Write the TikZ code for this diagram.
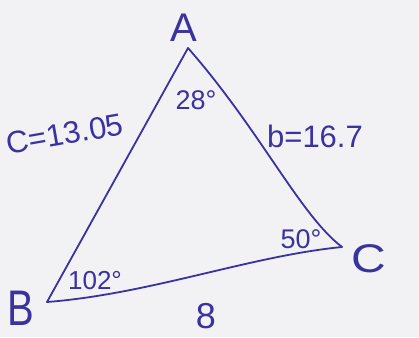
\documentclass[tikz,border=0pt]{standalone}
\usepackage{fontspec}
\setmainfont{Liberation Sans}
\usepackage{xcolor}
\definecolor{ink}{RGB}{58,50,158}
\definecolor{paper}{RGB}{242,242,245}

\begin{document}
\begin{tikzpicture}[x=1pt, y=-1pt, line width=1.8pt, line cap=round,
  hand/.style={text=ink, inner sep=0pt, font=\fontsize{31}{31}\selectfont},
  big/.style={hand, font=\fontsize{40}{40}\selectfont}]
  %% paper
  \fill[paper] (0,0) rectangle (419,337);
  \useasboundingbox (0,0) rectangle (419,337);

  %% corners of the triangle
  \coordinate (A) at (188,48);
  \coordinate (B) at (47,302);
  \coordinate (C) at (342,247);

  %% sides
  \draw[ink] (A) -- (B);
  \draw[ink] (A) .. controls (260,130) and (300,215) .. (C);
  \draw[ink] (B) .. controls (150,294) and (250,256) .. (C);

  %% vertex labels
  \node[big] (labA) at (184,28) {A};
  \node[big, yscale=1.25] (labB) at (21,308) {B};
  \node[big, xscale=1.2] (labC) at (369,259) {C};

  %% angles
  \node[hand, font=\fontsize{27}{27}\selectfont] (angA) at (196,100) {28°};
  \node[hand, font=\fontsize{26}{26}\selectfont] (angB) at (95,281) {102°};
  \node[hand, font=\fontsize{27}{27}\selectfont] (angC) at (301,239) {50°};

  %% side lengths
  \node[hand, rotate=10] (sideC) at (65,134) {C=13.05};
  \node[hand] (sideB) at (315,136) {b=16.7};
  \node[big, font=\fontsize{36}{36}\selectfont] (sideA) at (206,316) {8};
\end{tikzpicture}
\end{document}
